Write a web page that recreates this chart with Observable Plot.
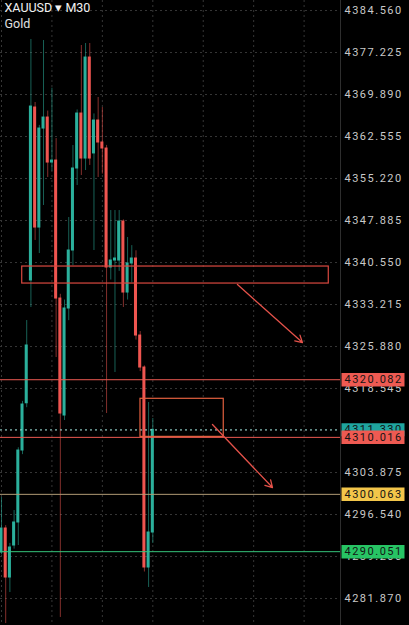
<!DOCTYPE html>
<html>
<head>
<meta charset="utf-8">
<script src="https://cdn.jsdelivr.net/npm/d3@7"></script>
<script src="https://cdn.jsdelivr.net/npm/@observablehq/plot@0.6"></script>
<style>
  html, body { margin: 0; padding: 0; background: #000; }
  #chart svg { display: block; }
</style>
</head>
<body>
<div id="chart"></div>
<script>
// ---- Data (XAUUSD, M30 candles, bar index = time order) ----
const opens  = [4289.91, 4294.10, 4285.54, 4291.13, 4295.15, 4307.72, 4315.97, 4337.41, 4367.62, 4346.66,
                4363.95, 4365.87, 4358.01, 4358.36, 4334.26, 4313.83, 4332.52, 4342.65, 4356.97, 4366.57,
                4358.71, 4376.35, 4359.60, 4365.35, 4361.51, 4360.46, 4339.68, 4340.90, 4340.90, 4347.71,
                4335.31, 4340.38, 4341.25, 4327.80, 4322.21, 4287.29, 4293.40];
const highs  = [4299.51, 4294.60, 4291.50, 4297.24, 4308.20, 4316.30, 4330.42, 4379.50, 4368.50, 4364.50,
                4379.32, 4367.00, 4371.00, 4362.20, 4335.00, 4334.00, 4348.41, 4360.98, 4367.20, 4378.45,
                4378.80, 4378.80, 4366.50, 4369.37, 4367.62, 4361.00, 4349.63, 4349.63, 4349.63, 4348.00,
                4344.92, 4343.50, 4342.60, 4328.50, 4322.50, 4316.10, 4313.31];
const lows   = [4289.50, 4277.50, 4282.92, 4290.50, 4291.13, 4307.00, 4315.20, 4332.69, 4344.40, 4342.12,
                4350.51, 4355.40, 4356.50, 4323.96, 4278.56, 4312.96, 4330.40, 4340.00, 4354.00, 4355.74,
                4356.62, 4357.50, 4342.65, 4355.40, 4356.00, 4314.18, 4337.50, 4321.34, 4339.00, 4332.70,
                4334.00, 4337.00, 4327.00, 4321.50, 4286.50, 4283.80, 4291.48];
const closes = [4294.10, 4285.54, 4290.78, 4295.15, 4307.72, 4315.75, 4326.06, 4367.79, 4346.66, 4363.95,
                4365.87, 4358.01, 4358.36, 4334.26, 4314.18, 4332.52, 4342.65, 4356.97, 4366.57, 4358.71,
                4376.35, 4358.71, 4365.35, 4361.51, 4360.46, 4339.68, 4340.90, 4341.25, 4347.71, 4335.31,
                4340.38, 4341.25, 4327.80, 4322.21, 4287.29, 4293.40, 4311.33];

// price axis tick labels
const priceTicks = [4384.560, 4377.225, 4369.890, 4362.555, 4355.220, 4347.885, 4340.550, 4333.215,
                    4325.880, 4318.545, 4311.210, 4303.875, 4296.540, 4289.205, 4281.870];
// time grid (every 12 bars = 6h)
const timeGrid = [0, 12, 24, 36, 48, 60, 72];

// horizontal price levels
const levelPrices = [4320.082, 4310.016, 4300.063, 4290.051];
const levelLine   = ["#ee5a52", "#ee5a52", "#b09a74", "#34c47a"];
const levelBox    = ["#ee5a52", "#ee5a52", "#f3c64a", "#27c464"];
const currentPrice = 4311.330;

// drawings: zones (bar index / price) and arrows
const zoneBars   = [[4.93, 77.87], [33.07, 52.88]];
const zonePrices = [[4336.88, 4339.85], [4310.10, 4316.75]];
const zoneColors = ["#d9483f", "#e3603f"];
const arrowBars   = [[56.14, 71.6], [50.2, 64.47]];
const arrowPrices = [[4336.71, 4326.58], [4312.26, 4301.26]];

const symbolTitle = "XAUUSD ▾ M30";
const symbolName = "Gold";

// ---- Build tables ----
const UP = "#2bb09c", DOWN = "#ef5550";
const bars = opens.map((o, i) => ({i, o, h: highs[i], l: lows[i], c: closes[i], color: closes[i] >= o ? UP : DOWN}));
const levels = levelPrices.map((p, k) => ({p, line: levelLine[k], box: levelBox[k]}));
const zones = zoneBars.map((b, k) => ({x1: b[0], x2: b[1], y1: zonePrices[k][0], y2: zonePrices[k][1], color: zoneColors[k]}));
const arrows = arrowBars.map((b, k) => ({x1: b[0], x2: b[1], y1: arrowPrices[k][0], y2: arrowPrices[k][1]}));
const fmt = d3.format(".3f");

const chart = Plot.plot({
  width: 409,
  height: 625,
  marginLeft: 0,
  marginRight: 69,
  marginTop: 0,
  marginBottom: 0,
  style: {background: "#000", color: "#c9c9c9", fontFamily: "Roboto, 'Noto Sans', sans-serif"},
  x: {domain: [-0.238, 80.66], axis: null},
  y: {domain: [4277.16, 4386.31], axis: null},
  marks: [
    Plot.gridY(priceTicks, {stroke: "#363636", strokeOpacity: 1, strokeDasharray: "2,3"}),
    Plot.gridX(timeGrid, {stroke: "#363636", strokeOpacity: 1, strokeDasharray: "2,3"}),
    Plot.frame({anchor: "right", stroke: "#2e2e2e"}),
    // candles
    Plot.ruleX(bars, {x: "i", y1: "l", y2: "h", stroke: "color", strokeOpacity: 0.55, strokeWidth: 1}),
    Plot.rect(bars, {x1: d => d.i - 0.36, x2: d => d.i + 0.36, y1: "o", y2: "c", fill: "color", insetTop: -0.5, insetBottom: -0.5}),
    // current price dotted line
    Plot.ruleY([currentPrice], {stroke: "#8fcfc8", strokeDasharray: "2,3", strokeWidth: 1}),
    // price levels
    Plot.ruleY(levels, {y: "p", stroke: "line", strokeWidth: 1}),
    // drawings
    Plot.rect(zones, {x1: "x1", x2: "x2", y1: "y1", y2: "y2", fill: "none", stroke: "color", strokeWidth: 1.2}),
    Plot.arrow(arrows, {x1: "x1", y1: "y1", x2: "x2", y2: "y2", stroke: "#e4524a", strokeWidth: 1.3, headLength: 9}),
    // price axis
    Plot.axisY(priceTicks, {anchor: "right", tickSize: 0, tickPadding: 4, tickFormat: fmt, fontSize: 11, fill: "#c9c9c9"}),
    // current price label (partly hidden)
    Plot.ruleY([currentPrice], {stroke: "#1fa59f", strokeWidth: 13, insetLeft: 341.5, insetRight: -64.5}),
    Plot.text([currentPrice], {y: d => d, text: d => fmt(d), frameAnchor: "right", dx: 4, textAnchor: "start", fill: "#111", fontSize: 11}),
    // level labels
    Plot.ruleY(levels, {y: "p", stroke: "box", strokeWidth: 13.5, insetLeft: 341.5, insetRight: -64.5}),
    Plot.text(levels, {y: "p", text: d => fmt(d.p), frameAnchor: "right", dx: 4, textAnchor: "start", fill: "#141414", fontSize: 11}),
    // header
    Plot.text([symbolTitle], {text: d => d, frameAnchor: "top-left", lineAnchor: "top", dx: 4, dy: 3, fontSize: 12.5, fill: "#f2f2f2"}),
    Plot.text([symbolName], {text: d => d, frameAnchor: "top-left", lineAnchor: "top", dx: 4, dy: 18.5, fontSize: 12.5, fill: "#e0e0e0"})
  ]
});

d3.select(chart).selectAll("text").filter(function () {
  return /^\d{4}\.\d{3}$/.test(this.textContent);
}).attr("letter-spacing", "1.5");

document.getElementById("chart").appendChild(chart);
</script>
</body>
</html>
